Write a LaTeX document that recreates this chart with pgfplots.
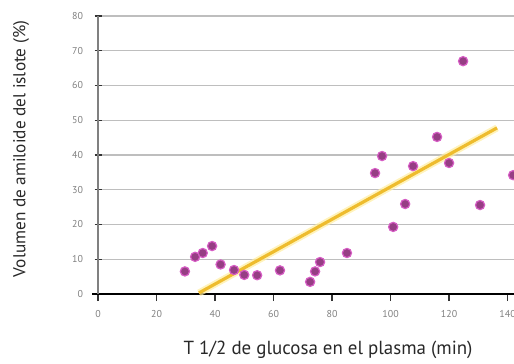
\documentclass[border=0pt]{standalone}
\usepackage{pgfplots}
\pgfplotsset{compat=1.18}
\usepackage{fontspec}
\setmainfont{PT Sans}

\definecolor{ptfill}{RGB}{150,62,132}
\definecolor{ptedge}{RGB}{214,92,196}
\definecolor{fitline}{RGB}{238,188,46}
\definecolor{fithalo}{RGB}{255,238,160}
\definecolor{gridgray}{RGB}{190,190,190}
\definecolor{labelgray}{RGB}{40,40,40}

\begin{document}
\begin{tikzpicture}[x=1bp,y=1bp]
\useasboundingbox (0,0) rectangle (514,363);
\begin{axis}[
  at={(98bp,69bp)}, anchor=south west,
  scale only axis, width=416bp, height=278bp,
  xmin=0, xmax=142.2, ymin=0, ymax=80,
  xtick={0,20,...,140}, ytick={0,10,...,80},
  axis x line*=bottom, axis y line*=left,
  x axis line style={black, line width=2.2bp, -, shorten <=-6bp},
  y axis line style={gray, line width=2.6bp, -},
  ymajorgrids, grid style={gridgray, line width=1.3bp},
  xtick align=outside, ytick align=center, major tick length=7bp,
  tick style={black!80, line width=1.4bp},
  ticklabel style={font=\fontsize{10}{12}\selectfont, text=gray},
  /pgf/number format/assume math mode=true,
  xticklabel style={yshift=-6bp},
  yticklabel style={xshift=-8bp},
  clip=false,
  xlabel={T 1/2 de glucosa en el plasma (min)},
  ylabel={Volumen de amiloide del islote (\%)},
  xlabel style={at={(axis description cs:0.553,-0.201)}, anchor=center,
    font=\fontsize{19}{21}\selectfont, text=labelgray},
  ylabel style={at={(axis description cs:-0.185,0.522)}, anchor=center,
    rotate=0, font=\fontsize{17.3}{20}\selectfont, text=labelgray},
]
% regression line, with a soft halo underneath
\addplot[fithalo, line width=7bp, opacity=0.7] coordinates {(34.5,0.3) (136.4,47.8)};
\addplot[fitline, line width=3.2bp] coordinates {(34.5,0.3) (136.4,47.8)};
% observations
\addplot[only marks, mark=*, mark size=4.6bp,
  mark options={fill=ptfill, draw=ptedge, line width=1.2bp}] coordinates {
  (29.7,6.5) (33.2,10.7) (35.8,11.8) (39.0,13.8) (41.9,8.5)
  (46.5,6.9) (50.0,5.5) (54.4,5.4) (62.2,6.8) (72.5,3.5)
  (74.2,6.5) (75.9,9.2) (85.1,11.8) (94.7,34.8) (97.1,39.7)
  (100.9,19.3) (105.0,25.9) (107.7,36.8) (115.9,45.2) (120.0,37.7)
  (124.8,67.0) (130.6,25.6) (141.9,34.2)
};
\end{axis}
\end{tikzpicture}
\end{document}
